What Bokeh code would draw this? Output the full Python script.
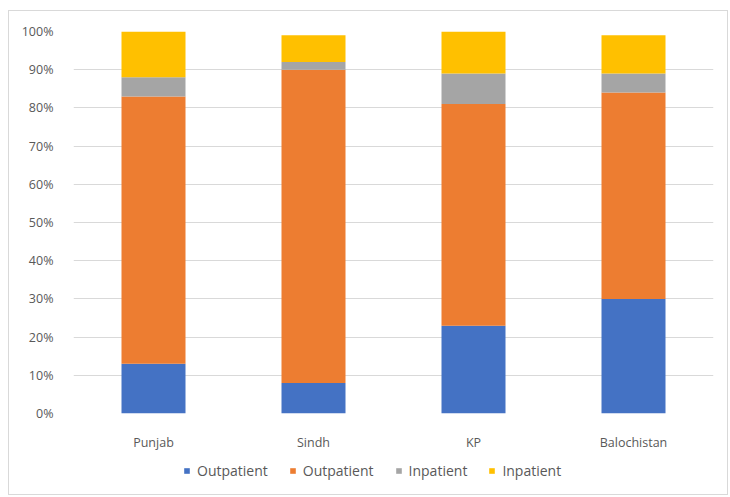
from bokeh.plotting import figure
from bokeh.layouts import column
from bokeh.models import ColumnDataSource, Legend, LegendItem, NumeralTickFormatter, FixedTicker, Range1d
from bokeh.embed import file_html
from bokeh.resources import INLINE

regions = ["Punjab", "Sindh", "KP", "Balochistan"]
outpatient_a = [13, 8, 23, 30]
outpatient_b = [70, 82, 58, 54]
inpatient_a = [5, 2, 8, 5]
inpatient_b = [12, 7, 11, 10]
series_keys = ["out_a", "out_b", "in_a", "in_b"]
series_labels = ["Outpatient", "Outpatient", "Inpatient", "Inpatient"]
colors = ["#4472C4", "#ED7D31", "#A5A5A5", "#FFC000"]
y_ticks = [0, 10, 20, 30, 40, 50, 60, 70, 80, 90, 100]

src = ColumnDataSource(dict(
    region=regions,
    out_a=[v / 100 for v in outpatient_a],
    out_b=[v / 100 for v in outpatient_b],
    in_a=[v / 100 for v in inpatient_a],
    in_b=[v / 100 for v in inpatient_b],
))

FONT = "Open Sans"
TXT = "#595959"
p = figure(x_range=regions, width=718, height=445, output_backend="svg",
           toolbar_location=None,
           min_border_left=64, min_border_right=14, min_border_top=20, min_border_bottom=43)
p.y_range = Range1d(0, 1.0)
p.x_range.range_padding = 0

p.vbar_stack(series_keys, x="region", width=0.4, source=src, color=colors, line_width=0)

p.yaxis.ticker = FixedTicker(ticks=[t / 100 for t in y_ticks])
p.yaxis.formatter = NumeralTickFormatter(format="0%")
for ax in (p.xaxis, p.yaxis):
    ax.axis_line_color = None
    ax.major_tick_line_color = None
    ax.minor_tick_line_color = None
    ax.major_label_text_color = TXT
    ax.major_label_text_font = FONT
    ax.major_label_text_font_size = "12.5px"
p.yaxis.major_label_standoff = 14
p.xaxis.major_label_standoff = 14
p.xgrid.grid_line_color = None
p.ygrid.grid_line_color = "#d9d9d9"
p.outline_line_color = None

# legend strip (separate small figure holding only the legend);
# its swatch renderers sit outside the visible range, zero height
swatch = ColumnDataSource(dict(x=[-10], out_a=[0], out_b=[0], in_a=[0], in_b=[0]))
lg = figure(width=718, height=38, output_backend="svg", toolbar_location=None,
            x_axis_location=None, y_axis_location=None,
            min_border_left=0, min_border_right=0, min_border_top=0, min_border_bottom=0,
            x_range=Range1d(0, 1), y_range=Range1d(0, 1))
lg.xgrid.grid_line_color = None
lg.ygrid.grid_line_color = None
lg.outline_line_color = None
lr = lg.vbar_stack(series_keys, x="x", width=0.4, source=swatch, color=colors, line_width=0)

items = [LegendItem(label=lab, renderers=[r]) for lab, r in zip(series_labels, lr)]
legend = Legend(items=items, orientation="horizontal", location=(110, 14),
                glyph_width=7, glyph_height=7, label_standoff=7, spacing=21,
                label_text_font=FONT, label_text_font_size="14px",
                label_text_color=TXT, border_line_color=None,
                background_fill_alpha=0, margin=0, padding=4)
lg.add_layout(legend)

layout = column(p, lg, spacing=0, margin=(10, 0, 0, 8),
                styles={"border": "1px solid #d9d9d9"})

open("out.html", "w").write(file_html(layout, INLINE))
